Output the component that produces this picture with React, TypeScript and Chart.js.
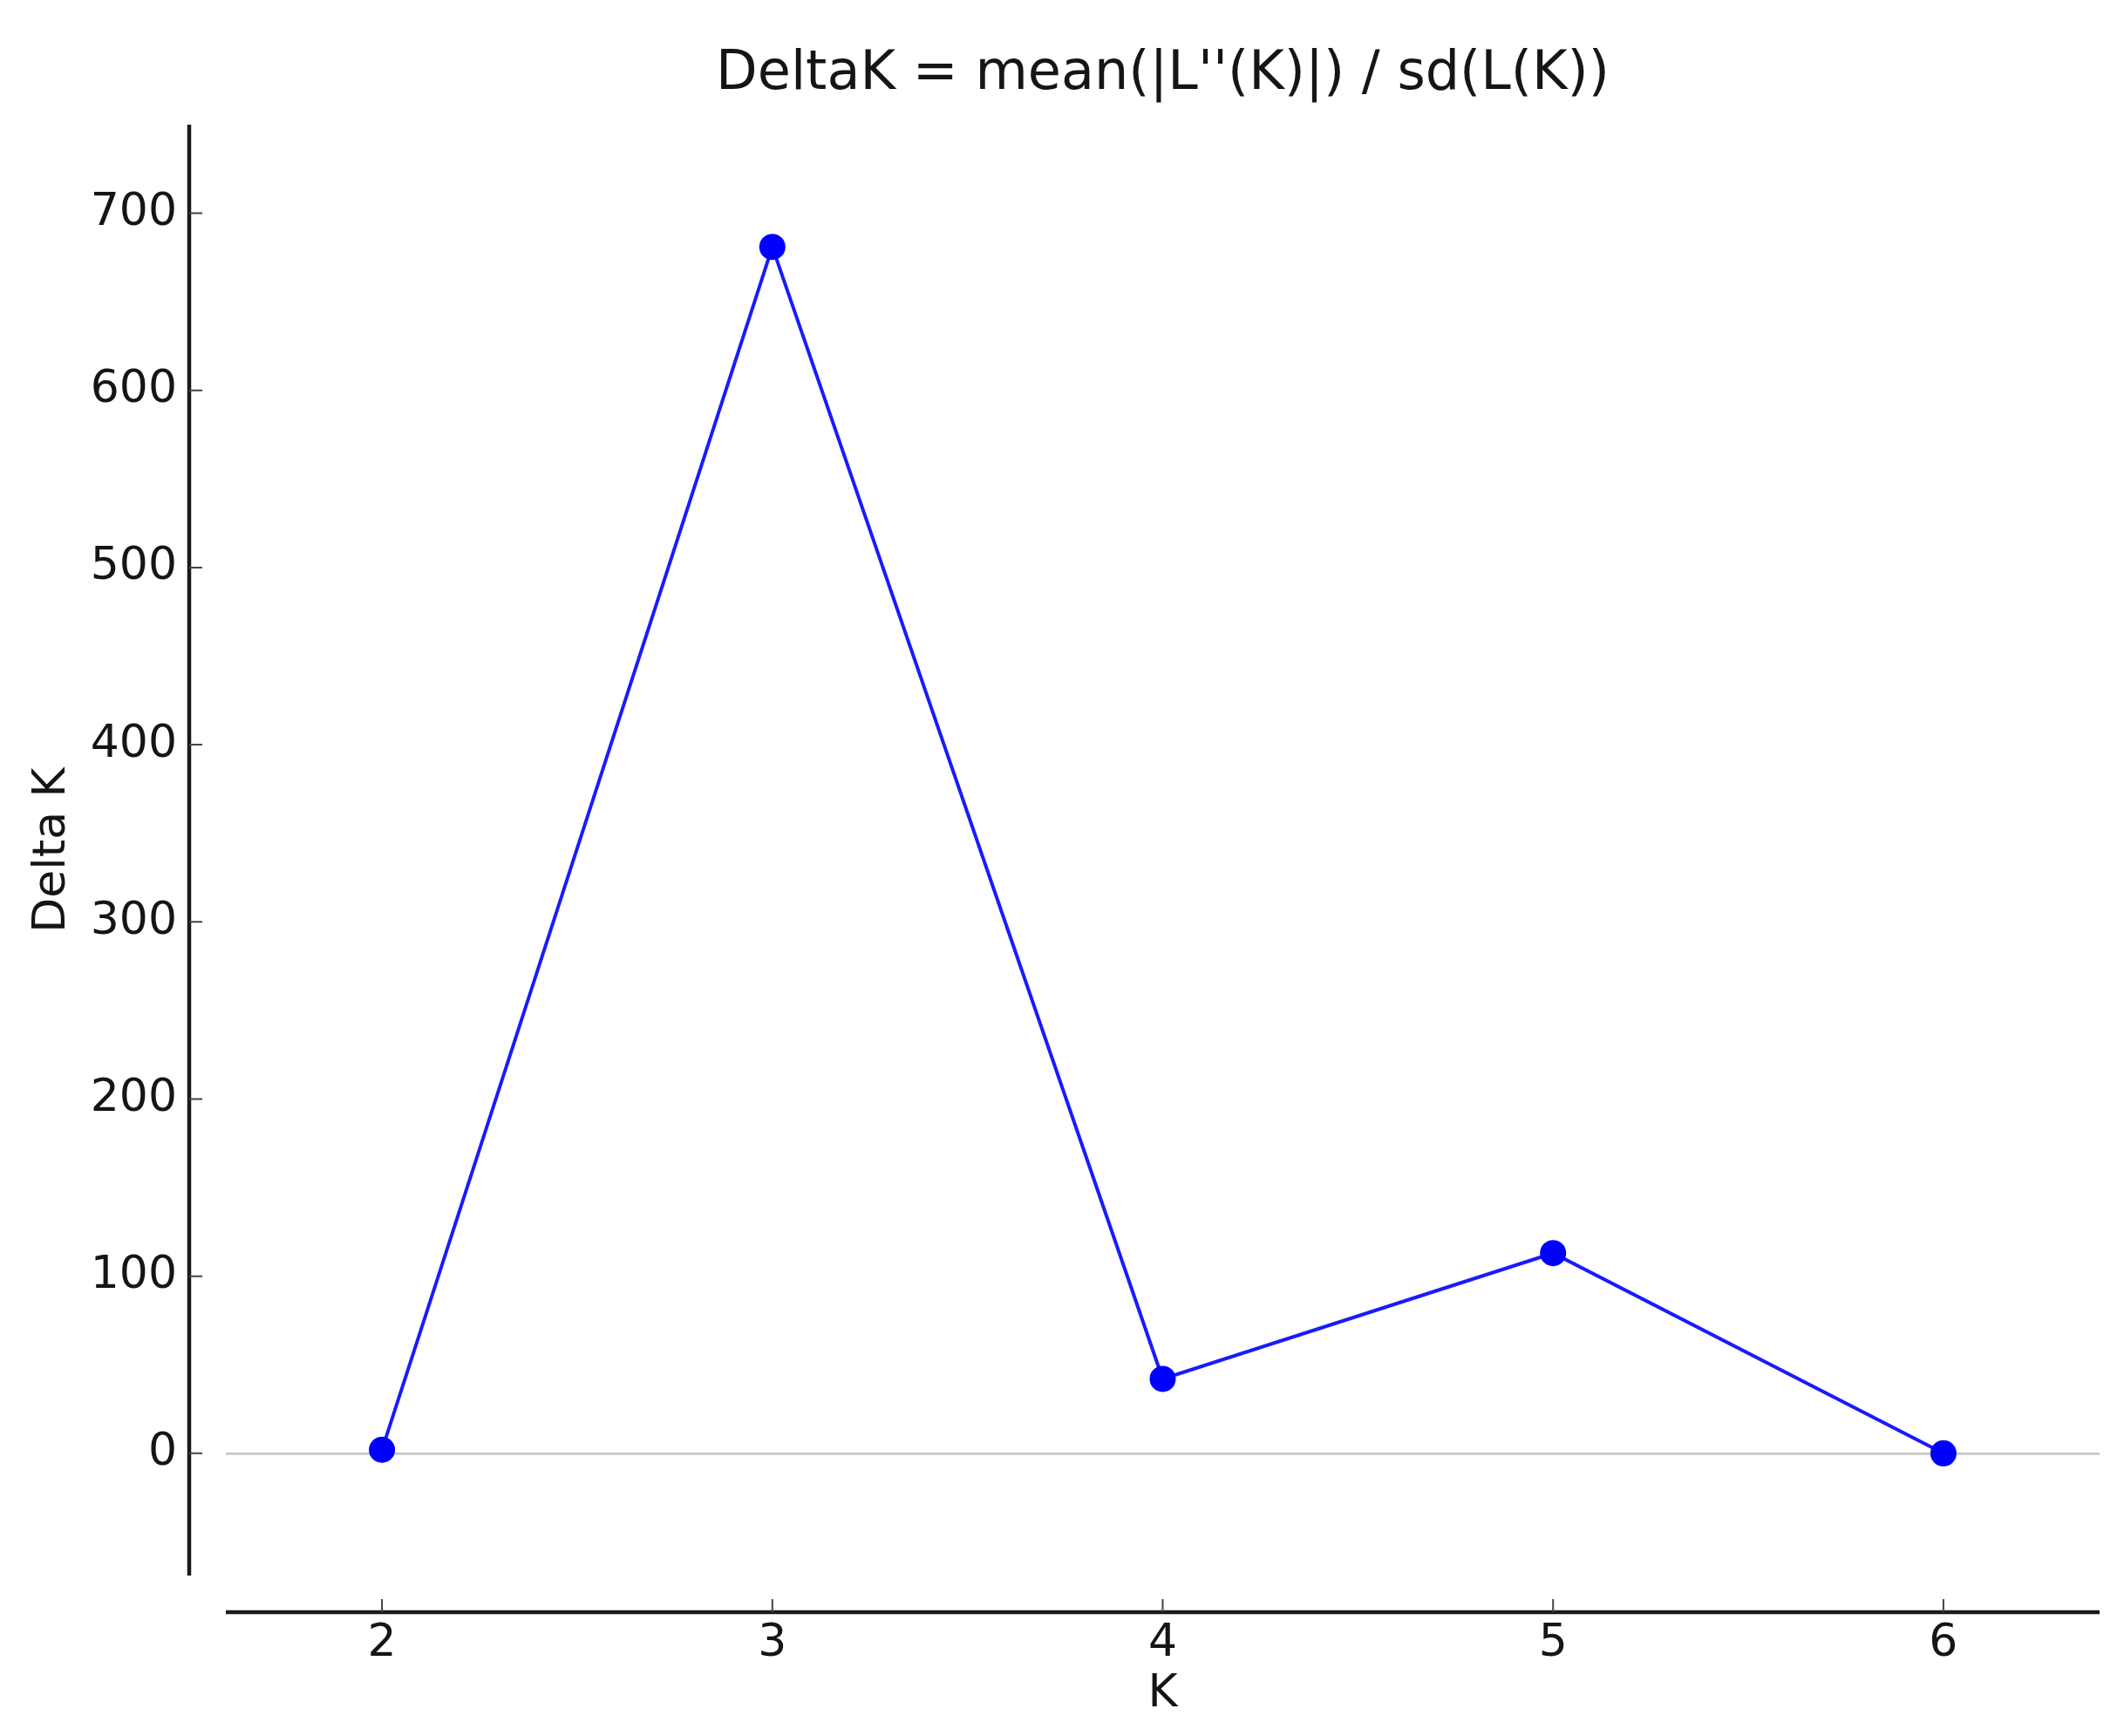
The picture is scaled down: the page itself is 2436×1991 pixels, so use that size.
import React, { useEffect, useRef } from "react";
import { Chart, registerables } from "chart.js";

Chart.register(...registerables);

const kValues = [2, 3, 4, 5, 6];
const deltaK = [2, 681, 42, 113, 0];
const xTicks = [2, 3, 4, 5, 6];
const yTicks = [0, 100, 200, 300, 400, 500, 600, 700];
const titleText = "DeltaK = mean(|L''(K)|) / sd(L(K))";
const xLabel = "K";
const yLabel = "Delta K";

const FONT = "'DejaVu Sans', sans-serif";
const SPINE_OFFSET = 42;
const TEXT_COLOR = "#151515";

const spinePlugin = {
  id: "offsetSpines",
  afterDraw(chart: any) {
    const { ctx, chartArea, scales } = chart;
    const x = scales.x;
    const y = scales.y;
    const sx = chartArea.left - SPINE_OFFSET;
    const sy = chartArea.bottom + SPINE_OFFSET;
    ctx.save();
    ctx.strokeStyle = "#1a1a1a";
    ctx.lineWidth = 4.5;
    ctx.lineCap = "butt";
    ctx.beginPath();
    ctx.moveTo(sx, chartArea.top);
    ctx.lineTo(sx, chartArea.bottom);
    ctx.moveTo(chartArea.left, sy);
    ctx.lineTo(chartArea.right, sy);
    ctx.stroke();
    ctx.lineWidth = 2;
    ctx.strokeStyle = "#444";
    ctx.beginPath();
    y.ticks.forEach((t: any) => {
      const py = y.getPixelForValue(t.value);
      ctx.moveTo(sx, py);
      ctx.lineTo(sx + 15, py);
    });
    x.ticks.forEach((t: any) => {
      const px = x.getPixelForValue(t.value);
      ctx.moveTo(px, sy);
      ctx.lineTo(px, sy - 15);
    });
    ctx.stroke();
    ctx.restore();
  },
};

export default function App() {
  const canvasRef = useRef<HTMLCanvasElement | null>(null);

  useEffect(() => {
    document.body.style.margin = "0";
    const canvas = canvasRef.current;
    if (!canvas) return;
    const chart = new Chart(canvas, {
      type: "scatter",
      data: {
        datasets: [
          {
            data: kValues.map((k, i) => ({ x: k, y: deltaK[i] })),
            showLine: true,
            borderColor: "#1a1aff",
            borderWidth: 4,
            backgroundColor: "#0000ff",
            pointRadius: 15,
            pointBackgroundColor: "#0000ff",
            pointBorderWidth: 0,
            tension: 0,
          },
        ],
      },
      options: {
        animation: false,
        responsive: false,
        maintainAspectRatio: false,
        layout: { padding: { left: 0, right: 28, top: 0, bottom: 0 } },
        plugins: {
          legend: { display: false },
          tooltip: { enabled: false },
          title: {
            display: true,
            text: titleText,
            fullSize: false,
            color: TEXT_COLOR,
            font: { family: FONT, size: 62, weight: "normal" },
            padding: { top: 49, bottom: 19.6 },
          },
        },
        scales: {
          x: {
            type: "linear",
            min: 1.6,
            max: 6.4,
            afterFit: (s: any) => {
              s.height = 184;
            },
            afterBuildTicks: (s: any) => {
              s.ticks = xTicks.map((v) => ({ value: v }));
            },
            grid: { display: false, drawTicks: false },
            border: { display: false },
            ticks: {
              color: TEXT_COLOR,
              font: { family: FONT, size: 52 },
              padding: 47,
              maxRotation: 0,
              callback: (v: any) => String(v),
            },
            title: {
              display: true,
              text: xLabel,
              color: TEXT_COLOR,
              font: { family: FONT, size: 52 },
              padding: { top: 0, bottom: 16 },
            },
          },
          y: {
            type: "linear",
            min: -69,
            max: 750,
            afterFit: (s: any) => {
              s.width = 259;
            },
            afterBuildTicks: (s: any) => {
              s.ticks = yTicks.map((v) => ({ value: v }));
            },
            grid: {
              drawTicks: false,
              lineWidth: 2.5,
              color: (c: any) =>
                c.tick && c.tick.value === 0 ? "#c4c4c4" : "rgba(0,0,0,0)",
            },
            border: { display: false },
            ticks: {
              color: TEXT_COLOR,
              font: { family: FONT, size: 52 },
              padding: 56,
              callback: (v: any) => String(v),
            },
            title: {
              display: true,
              text: yLabel,
              color: TEXT_COLOR,
              font: { family: FONT, size: 52 },
              padding: { top: 29, bottom: 0 },
            },
          },
        },
      },
      plugins: [spinePlugin],
    } as any);
    return () => chart.destroy();
  }, []);

  return (
    <div style={{ width: 2436, height: 1991 }}>
      <canvas
        ref={canvasRef}
        width={2436}
        height={1991}
        style={{ display: "block", width: 2436, height: 1991 }}
      />
    </div>
  );
}
